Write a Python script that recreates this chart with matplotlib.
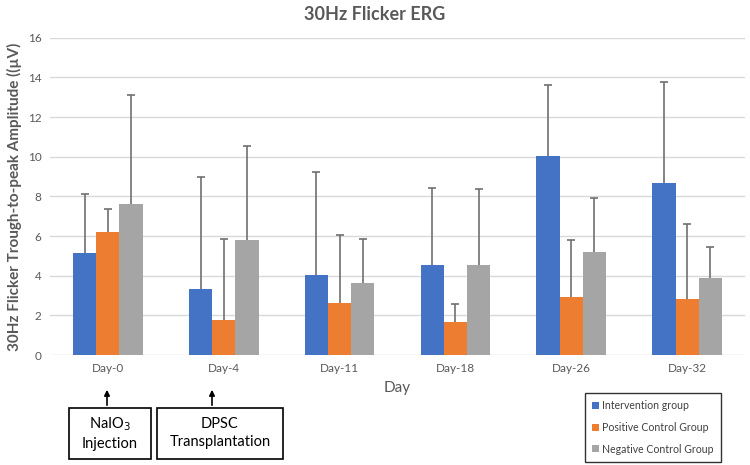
import numpy as np
import matplotlib
matplotlib.use('Agg')
import matplotlib.pyplot as plt
from matplotlib.patches import Rectangle, FancyArrowPatch

plt.rcParams['font.family'] = ['Lato', 'DejaVu Sans']

# ---- data ----
days = ['Day-0', 'Day-4', 'Day-11', 'Day-18', 'Day-26', 'Day-32']
groups = ['Intervention group', 'Positive Control Group', 'Negative Control Group']
intervention = [5.15, 3.35, 4.05, 4.55, 10.05, 8.65]
positive = [6.2, 1.75, 2.6, 1.65, 2.9, 2.8]
negative = [7.6, 5.8, 3.65, 4.55, 5.2, 3.9]
err_intervention = [2.95, 5.65, 5.2, 3.85, 3.55, 5.1]
err_positive = [1.15, 4.1, 3.45, 0.9, 2.9, 3.8]
err_negative = [5.5, 4.75, 2.2, 3.8, 2.7, 1.55]
colors = ['#4472C4', '#ED7D31', '#A5A5A5']

W, H = 750, 465
fig = plt.figure(figsize=(W / 100, H / 100), dpi=100)
ax = fig.add_axes([50 / W, 1 - 355 / H, 695 / W, (355 - 37.7) / H])

x = np.arange(len(days))
width = 0.2
series = [(intervention, err_intervention), (positive, err_positive), (negative, err_negative)]
for i, (vals, errs) in enumerate(series):
    ax.bar(x + (i - 1) * width, vals, width, color=colors[i], label=groups[i], zorder=3)
    _, caps, _ = ax.errorbar(x + (i - 1) * width, vals, yerr=[np.zeros(len(errs)), errs], fmt='none',
                             ecolor='#707070', elinewidth=1.2, capsize=3, capthick=1.2, zorder=4)
    caps[0].set_visible(False)  # only the upper cap

ax.set_xlim(-0.5, len(days) - 0.5)
ax.set_ylim(0, 16)
ax.set_yticks(np.arange(0, 17, 2))
ax.set_xticks(x)
ax.set_xticklabels(days)
ax.grid(axis='y', color='#d9d9d9', linewidth=1, zorder=0)
for s in ['top', 'right', 'left', 'bottom']:
    ax.spines[s].set_visible(False)
ax.tick_params(axis='both', length=0, labelsize=8.5, colors='#595959', pad=6)
ax.set_axisbelow(True)

ax.set_xlabel('Day', fontsize=11, color='#595959', labelpad=5)
ax.set_ylabel('30Hz Flicker Trough-to-peak Amplitude ((µV)', fontsize=11,
              fontweight='bold', color='#595959', labelpad=4)
fig.text(0.5, 1 - 14 / H, '30Hz Flicker ERG', ha='center', va='center',
         fontsize=13, fontweight='bold', color='#595959')

# legend box
leg = ax.legend(loc='upper left', bbox_to_anchor=(585 / W, 1 - 393 / H), bbox_transform=fig.transFigure,
                fontsize=7.6, frameon=True, fancybox=False, edgecolor='black',
                handlelength=0.6, handleheight=0.6, handletextpad=0.3, labelspacing=1.0,
                borderpad=0.7, borderaxespad=0)
leg.get_frame().set_linewidth(1)
for t in leg.get_texts():
    t.set_color('#404040')

# annotation boxes
def fx(px):
    return px / W

def fy(py):
    return 1 - py / H

boxes = [
    (69, 151, 107, 'NaIO$_3$\nInjection'),
    (157, 283, 212, 'DPSC\nTransplantation'),
]
for left, right, ax_x, label in boxes:
    fig.patches.append(Rectangle((fx(left), fy(459)), fx(right) - fx(left), fy(408) - fy(459),
                                 transform=fig.transFigure, fill=False, edgecolor='black', linewidth=1.2))
    fig.text(fx((left + right) / 2), fy(433), label, ha='center', va='center',
             fontsize=10.5, color='black', linespacing=1.4)
    fig.patches.append(FancyArrowPatch((fx(ax_x), fy(408)), (fx(ax_x), fy(387)),
                                       transform=fig.transFigure, arrowstyle='-|>',
                                       mutation_scale=8, color='black', linewidth=1.2))

fig.savefig('out.png', dpi=100)
